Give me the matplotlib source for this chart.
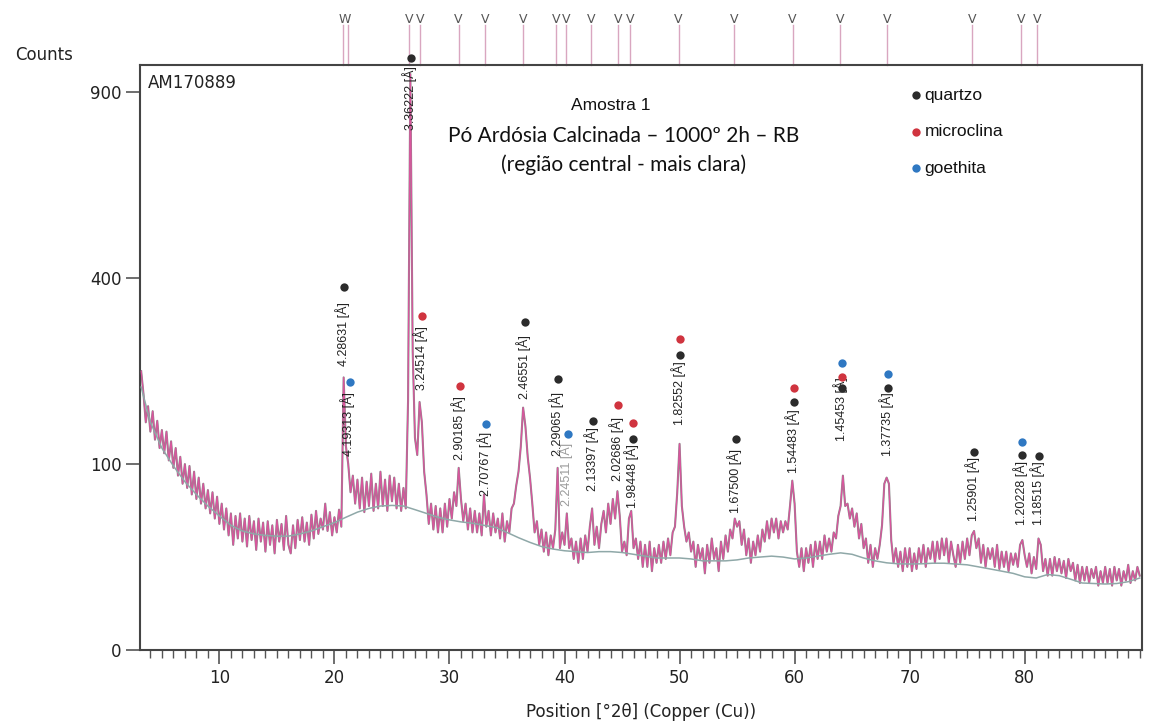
# XRD pattern - Amostra 1 (sqrt intensity scale)
import numpy as np
import matplotlib
matplotlib.use("Agg")
from matplotlib import pyplot as plt
import matplotlib.transforms as mtransforms

plt.rcParams["font.family"] = ["DejaVu Sans"]

# measured counts, 0.2 deg steps from 3.2 to 90.0 (one row per degree)
counts = [
    225, 190, 150, 172, 138,   # 3
    165, 128, 152, 118, 140,   # 4
    112, 138, 104, 126, 96,    # 5
    118, 88, 108, 80, 100,     # 6
    76, 98, 70, 92, 66,        # 7
    86, 62, 80, 58, 74,        # 8
    54, 72, 50, 68, 46,        # 9
    62, 42, 58, 38, 54,        # 10
    32, 52, 36, 54, 34,        # 11
    50, 31, 52, 35, 48,        # 12
    29, 50, 34, 47, 28,        # 13
    48, 32, 45, 27, 49,        # 14
    34, 46, 29, 52, 32,        # 15
    27, 45, 30, 49, 35,        # 16
    51, 34, 47, 32, 53,        # 17
    36, 56, 39, 50, 42,        # 18
    62, 41, 55, 38, 51,        # 19
    40, 57, 44, 215, 120,      # 20
    100, 72, 88, 62, 84,       # 21
    58, 86, 55, 82, 60,        # 22
    90, 56, 80, 58, 92,        # 23
    60, 84, 56, 88, 64,        # 24
    86, 58, 80, 56, 76,        # 25
    58, 180, 960, 260, 130,    # 26
    110, 178, 150, 92, 70,     # 27
    46, 62, 42, 60, 40,        # 28
    58, 40, 62, 44, 66,        # 29
    50, 72, 60, 96, 66,        # 30
    48, 62, 42, 58, 40,        # 31
    56, 40, 54, 38, 70,        # 32
    44, 56, 38, 54, 40,        # 33
    50, 36, 54, 34, 48,        # 34
    40, 58, 62, 78, 92,        # 35
    120, 170, 145, 108, 86,    # 36
    62, 40, 48, 32, 42,        # 37
    28, 40, 26, 38, 30,        # 38
    42, 96, 30, 40, 32,        # 39
    54, 30, 36, 24, 34,        # 40
    22, 36, 24, 38, 28,        # 41
    44, 58, 32, 44, 30,        # 42
    46, 56, 40, 62, 46,        # 43
    66, 50, 73, 52, 28,        # 44
    34, 26, 50, 56, 30,        # 45
    36, 24, 34, 20, 32,        # 46
    20, 34, 18, 30, 22,        # 47
    32, 22, 34, 24, 36,        # 48
    26, 40, 44, 72, 123,       # 49
    60, 44, 34, 40, 28,        # 50
    34, 20, 32, 24, 30,        # 51
    17, 32, 22, 36, 24,        # 52
    30, 18, 34, 24, 38,        # 53
    28, 42, 36, 50, 44,        # 54
    48, 32, 42, 26, 36,        # 55
    22, 34, 26, 38, 28,        # 56
    42, 34, 48, 36, 50,        # 57
    40, 50, 36, 48, 40,        # 58
    48, 42, 60, 83, 62,        # 59
    28, 20, 30, 18, 30,        # 60
    22, 32, 20, 34, 24,        # 61
    34, 24, 38, 28, 36,        # 62
    28, 40, 36, 52, 60,        # 63
    88, 60, 62, 50, 58,        # 64
    44, 54, 36, 46, 30,        # 65
    36, 22, 32, 20, 30,        # 66
    24, 32, 45, 80, 86,        # 67
    80, 35, 22, 30, 20,        # 68
    28, 18, 30, 20, 30,        # 69
    18, 27, 19, 30, 22,        # 70
    32, 20, 30, 24, 34,        # 71
    22, 34, 24, 36, 26,        # 72
    36, 22, 34, 26, 20,        # 73
    32, 22, 34, 24, 36,        # 74
    26, 38, 41, 30, 36,        # 75
    22, 32, 20, 30, 24,        # 76
    30, 20, 32, 19, 28,        # 77
    20, 28, 18, 27, 21,        # 78
    27, 20, 32, 35, 26,        # 79
    20, 27, 17, 25, 19,        # 80
    36, 32, 18, 24, 16,        # 81
    24, 16, 25, 18, 24,        # 82
    17, 23, 15, 24, 18,        # 83
    22, 14, 21, 13, 20,        # 84
    14, 20, 13, 19, 15,        # 85
    20, 12, 18, 13, 20,        # 86
    13, 19, 12, 20, 14,        # 87
    19, 12, 18, 14, 21,        # 88
    13, 18, 14, 20, 16,        # 89
]
two_theta = 3.2 + 0.2 * np.arange(len(counts))

# fitted background
bg_pos = [3.2, 4, 5, 6, 7, 8, 9, 10, 11, 12, 13, 14, 15, 16, 17, 18, 19, 20,
          21, 22, 23, 24, 25, 26, 27, 28, 29, 30, 31, 32, 33, 34, 35, 36, 37,
          38, 39, 40, 41, 42, 43, 44, 45, 46, 47, 48, 49, 50, 51, 52, 53, 54,
          55, 56, 57, 58, 59, 60, 61, 62, 63, 64, 65, 66, 67, 68, 69, 70, 71,
          72, 73, 74, 75, 76, 77, 78, 79, 80, 81, 82, 83, 84, 85, 86, 87, 88,
          89, 90]
bg_counts = [200, 150, 118, 98, 82, 70, 60, 52, 45, 41, 39, 38, 37.5, 37.5, 39,
             41, 44, 47, 51, 55, 58, 60, 60.5, 60, 57, 54, 51, 49, 47.5, 46.5,
             45, 43.5, 40, 36.5, 33.5, 31, 29.5, 28.5, 28, 27.5, 28, 28, 27.5,
             26.5, 25.5, 24.5, 24.5, 24.5, 24, 23, 23, 23, 23.5, 24.5, 25, 25.5,
             25, 24, 24.5, 25.5, 26.5, 27.3, 26.5, 24.5, 23, 22, 21.5, 21.4,
             21.5, 21.8, 21.8, 21.4, 21, 20, 19, 18, 17, 15.5, 15, 16.5, 16,
             14.5, 13, 12.8, 12.6, 12.8, 13.5, 15]

# identified peaks
peak_pos = [20.71, 21.17, 26.49, 27.46, 30.79, 33.06, 36.41, 39.30, 40.13,
            42.32, 44.67, 45.68, 49.92, 54.76, 59.82, 63.96, 68.01, 75.44,
            79.68, 81.08]
peak_d = ["4.28631", "4.19313", "3.36222", "3.24514", "2.90185", "2.70767",
          "2.46551", "2.29065", "2.24511", "2.13397", "2.02686", "1.98448",
          "1.82552", "1.67500", "1.54483", "1.45453", "1.37735", "1.25901",
          "1.20228", "1.18515"]
# phases per peak: q = quartzo, m = microclina, g = goethita (bottom to top)
peak_phases = ["q", "g", "q", "m", "m", "g", "q", "q", "g", "q", "m", "qm",
               "qm", "q", "qm", "qmg", "qg", "q", "qg", "q"]

phase_names = ["quartzo", "microclina", "goethita"]
phase_colors = {"q": "#2b2b2b", "m": "#d0343f", "g": "#2f78c2"}

# layout of the labels (count level of text base, x nudge, and dot levels)
label_base = [234, 109, 781, 195, 104, 69, 183, 109, 60, 73, 83, 58, 146, 54,
              91, 127, 109, 48, 45, 45]
label_dx = [0, 0, 0, 0, 0, 0, 0, 0, 0, 0, -0.15, 0.12, 0, 0, 0, 0, 0, 0,
            -0.05, 0.05]
dot_levels = [[382], [208], [1013], [323], [201], [148], [312], [213], [135],
              [152], [174], [129, 149], [252, 279], [129], [178, 199],
              [199, 216, 239], [198, 221], [113], [110, 125], [109]]

fig = plt.figure(figsize=(11.62, 7.22), dpi=100)
ax = fig.add_axes([0.1205, 0.0997, 0.8623, 0.8102])

ax.set_yscale("function", functions=(lambda y: np.sqrt(np.clip(y, 0, None)),
                                     lambda y: y ** 2))
ax.plot(two_theta, counts, color="#8a8a8a", lw=1.5, zorder=2)
ax.plot(two_theta, counts, color="#d9559d", lw=0.9, zorder=3)
ax.plot(bg_pos, bg_counts, color="#8fa8a8", lw=1.1, zorder=4)

ax.set_xlim(3.1, 90.2)
ax.set_ylim(0, 990)
ax.set_yticks([0, 100, 400, 900])
ax.set_xticks(range(10, 90, 10))
ax.set_xticks(range(4, 91), minor=True)
ax.tick_params(axis="both", which="major", direction="out", length=10,
               width=1.2, color="#555555", labelsize=12, labelcolor="#222222")
ax.tick_params(axis="x", which="minor", direction="out", length=6,
               width=1.0, color="#555555")
ax.tick_params(axis="y", which="minor", left=False)
for sp in ax.spines.values():
    sp.set_color("#444444")
    sp.set_linewidth(1.5)

# peak labels and phase dots
for x, d, base, dx, lev, ph in zip(peak_pos, peak_d, label_base, label_dx,
                                   dot_levels, peak_phases):
    col = "#9a9a9a" if d == "2.24511" else "#222222"
    ax.text(x + dx, base, d + " [Å]", rotation=90, ha="center", va="bottom",
            fontsize=9, family="Liberation Sans", color=col, zorder=5)
    for y, p in zip(lev, ph):
        ax.plot(x + dx + 0.15, y, "o", color=phase_colors[p], ms=6,
                mec="none", clip_on=False, zorder=6)

# peak markers above the frame (two very close markers read as "W")
trans = mtransforms.blended_transform_factory(ax.transData, ax.transAxes)
i = 0
while i < len(peak_pos):
    x = peak_pos[i]
    ax.plot([x, x], [1.0, 1.068], color="#d9a6c0", lw=1.0, transform=trans,
            clip_on=False)
    if i + 1 < len(peak_pos) and peak_pos[i + 1] - x < 0.6:
        x2 = peak_pos[i + 1]
        ax.plot([x2, x2], [1.0, 1.068], color="#d9a6c0", lw=1.0,
                transform=trans, clip_on=False)
        ax.text((x + x2) / 2, 1.066, "W", ha="center", va="bottom",
                fontsize=9, color="#555555", transform=trans,
                family="DejaVu Sans Condensed")
        i += 2
    else:
        ax.text(x, 1.066, "V", ha="center", va="bottom", fontsize=9,
                color="#555555", transform=trans,
                family="DejaVu Sans Condensed")
        i += 1

# legend of phases
for i, (name, key) in enumerate(zip(phase_names, ["q", "m", "g"])):
    yy = 0.948 - i * 0.062
    ax.plot(0.774, yy, "o", color=phase_colors[key], ms=6, mec="none",
            transform=ax.transAxes)
    ax.text(0.783, yy, name, fontsize=12.5, family="Liberation Sans",
            va="center", ha="left", transform=ax.transAxes, color="#111111")

ax.text(0.47, 0.93, "Amostra 1", fontsize=12.5, family="Liberation Sans",
        ha="center", va="center", transform=ax.transAxes, color="#111111")
ax.text(0.483, 0.878, "Pó Ardósia Calcinada – 1000º 2h – RB", fontsize=15,
        family="Lato", ha="center", va="center", transform=ax.transAxes,
        color="#111111")
ax.text(0.483, 0.83, "(região central - mais clara)", fontsize=15,
        family="Lato", ha="center", va="center", transform=ax.transAxes,
        color="#111111")
ax.text(0.008, 0.985, "AM170889", fontsize=12, ha="left", va="top",
        transform=ax.transAxes, color="#222222")

fig.text(15 / 1162, 1 - 55 / 722, "Counts", fontsize=12, ha="left",
         va="center", color="#222222")
ax.set_xlabel("Position [°2θ] (Copper (Cu))", fontsize=12, color="#222222",
              labelpad=12)

fig.savefig("out.png", dpi=100)
